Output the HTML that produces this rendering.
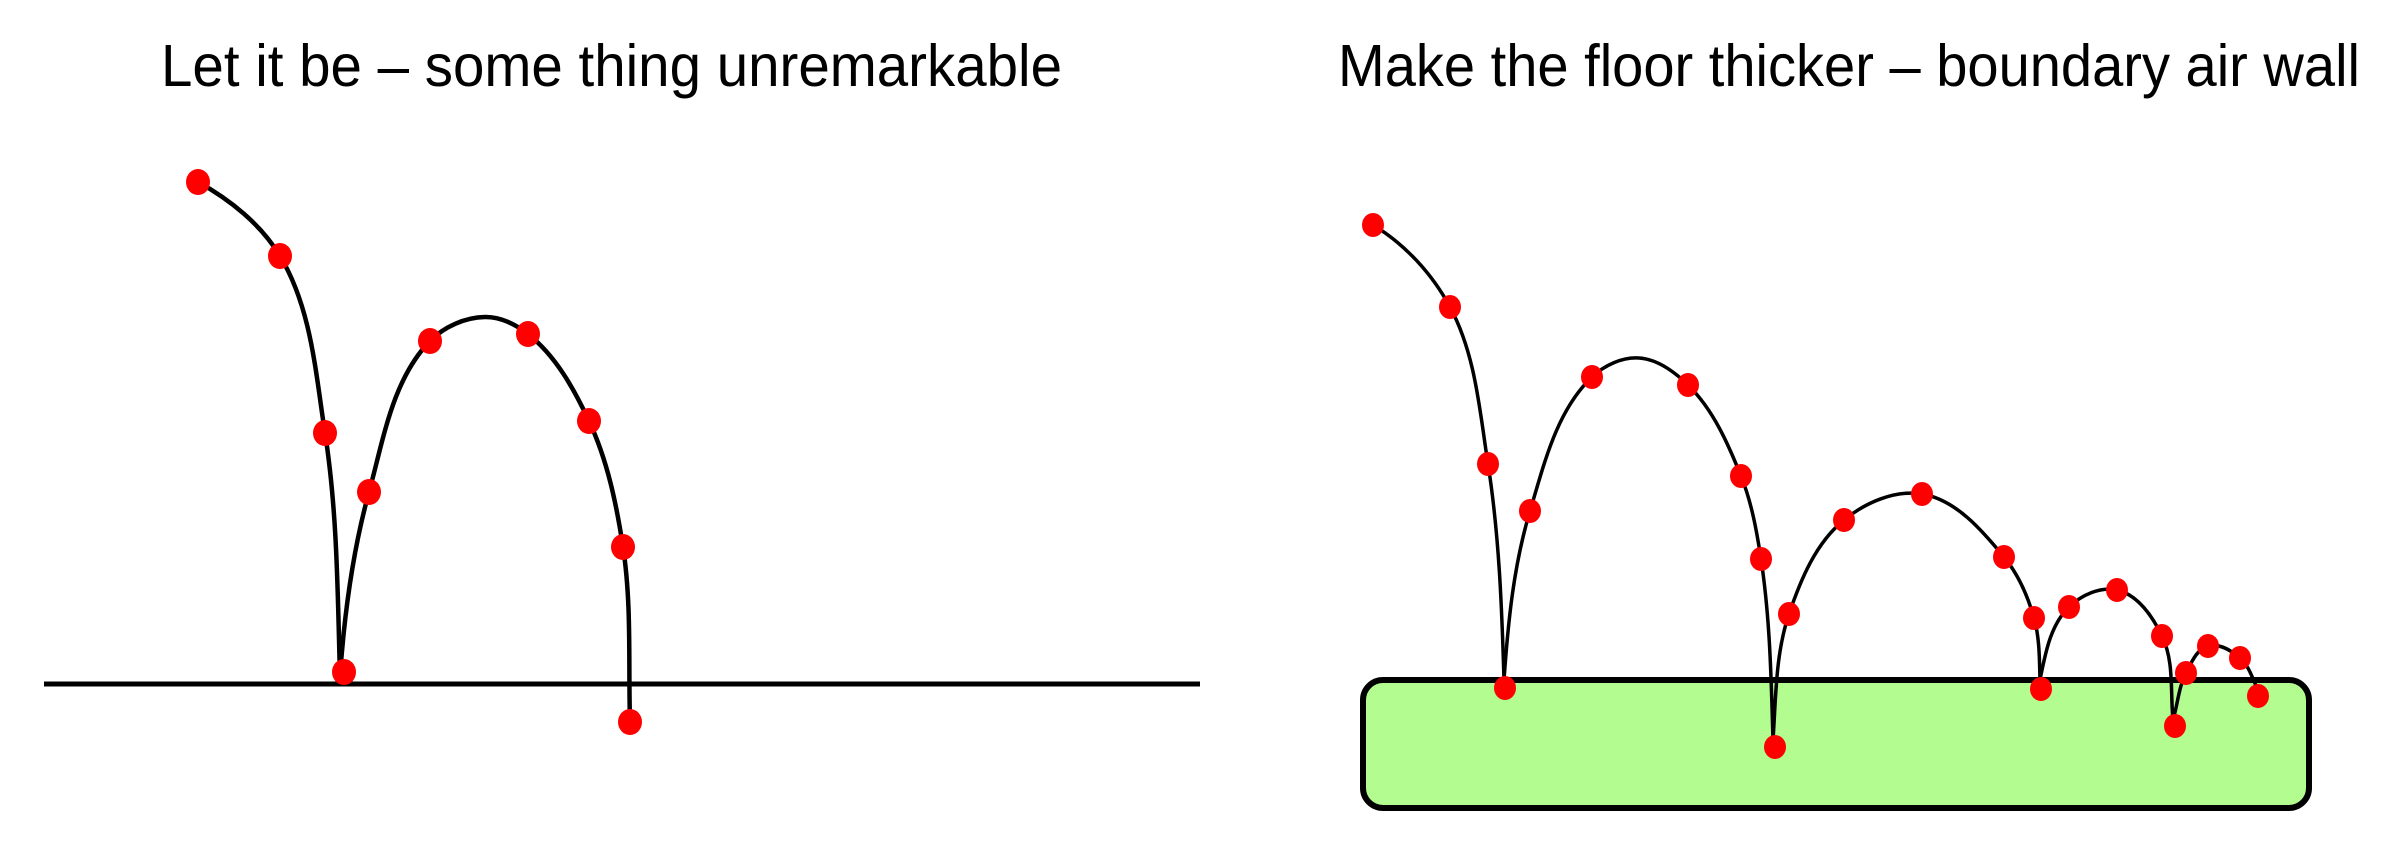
<!DOCTYPE html>
<html><head><meta charset="utf-8"><style>
html,body{margin:0;padding:0;background:#fff;}
svg{display:block;}
text{font-family:"Liberation Sans",Arial,sans-serif;font-size:59px;fill:#000;}
</style></head><body>
<svg id="s" width="2406" height="856" viewBox="0 0 2406 856" xmlns="http://www.w3.org/2000/svg">
<text x="161" y="86" textLength="901" lengthAdjust="spacingAndGlyphs">Let it be – some thing unremarkable</text>
<text x="1338" y="86" textLength="1022" lengthAdjust="spacingAndGlyphs">Make the floor thicker – boundary air wall</text>
<line x1="44" y1="684" x2="1200" y2="684" stroke="#000" stroke-width="5"/>
<rect x="1363" y="680" width="946" height="128" rx="20" ry="20" fill="#b3fc8f" stroke="#000" stroke-width="6"/>
<g id="curves" fill="none" stroke="#000" stroke-linejoin="round"></g>
<g id="dots" fill="#ff0000"></g>
</svg>
<script>
var ns="http://www.w3.org/2000/svg";
function norm(v){var l=Math.hypot(v[0],v[1]);return [v[0]/l,v[1]/l];}
function path(pts,t0,t1){
  var n=pts.length,T=[];
  for(var i=0;i<n;i++){
    if(i==0)T.push(norm(t0));else if(i==n-1)T.push(norm(t1));
    else{var a=norm([pts[i][0]-pts[i-1][0],pts[i][1]-pts[i-1][1]]),b=norm([pts[i+1][0]-pts[i][0],pts[i+1][1]-pts[i][1]]);T.push(norm([a[0]+b[0],a[1]+b[1]]));}
  }
  var d="M"+pts[0][0]+","+pts[0][1];
  for(var i=0;i<n-1;i++){
    var p=pts[i],q=pts[i+1],L=Math.hypot(q[0]-p[0],q[1]-p[1])/3;
    d+=" C"+(p[0]+T[i][0]*L)+","+(p[1]+T[i][1]*L)+" "+(q[0]-T[i+1][0]*L)+","+(q[1]-T[i+1][1]*L)+" "+q[0]+","+q[1];
  }
  return d;
}
var dn=[0.03,1], up=[0.07,-1];
var curves=[
 [4.5,[[198,182],[280,256],[325,433],[340,676]],[1,0.55],dn],
 [4.5,[[340,676],[369,492],[430,341],[485,317],[528,334],[589,421],[623,547],[630,722]],up,dn],
 [3.5,[[1373,225],[1450,307],[1488,464],[1504,680]],[1,0.6],dn],
 [3.5,[[1504,680],[1530,511],[1592,377],[1639,358],[1688,385],[1741,476],[1761,559],[1773,740]],up,dn],
 [3.5,[[1773,740],[1789,614],[1844,520],[1922,494],[2004,557],[2034,618],[2040,680]],up,dn],
 [3.5,[[2040,680],[2069,607],[2117,590],[2162,636],[2173,720]],[0.2,-1],[0.1,1]],
 [3.5,[[2173,720],[2186,673],[2208,646],[2240,658],[2258,690]],[0.3,-1],[0.5,1]]
];
var g=document.getElementById("curves");
curves.forEach(function(c){var p=document.createElementNS(ns,"path");p.setAttribute("d",path(c[1],c[2],c[3]));p.setAttribute("stroke-width",c[0]);g.appendChild(p);});
var dots=[[198,182],[280,256],[325,433],[344,672],[369,492],[430,341],[528,334],[589,421],[623,547],[630,722],
[1373,225],[1450,307],[1488,464],[1505,688],[1530,511],[1592,377],[1688,385],[1741,476],[1761,559],[1775,747],[1789,614],[1844,520],[1922,494],[2004,557],[2034,618],[2041,689],[2069,607],[2117,590],[2162,636],[2175,726],[2186,673],[2208,646],[2240,658],[2258,696]];
var dg=document.getElementById("dots");
dots.forEach(function(d,i){var c=document.createElementNS(ns,"ellipse");c.setAttribute("cx",d[0]);c.setAttribute("cy",d[1]);var r=i<10?12:11;c.setAttribute("rx",r);c.setAttribute("ry",r+1);dg.appendChild(c);});
</script>
</body></html>
